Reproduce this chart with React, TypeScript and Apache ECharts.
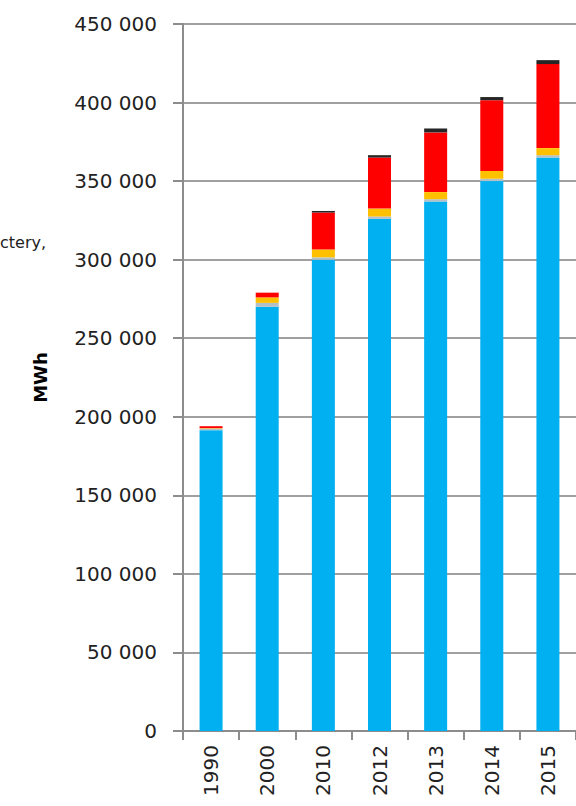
import React, { useEffect, useRef } from "react";
import * as echarts from "echarts";

const years = ["1990", "2000", "2010", "2012", "2013", "2014", "2015"];
const hydro = [191500, 270000, 300000, 326000, 337000, 350000, 365000];
const other = [1000, 2500, 1500, 1500, 1500, 1500, 1500];
const bio = [300, 3500, 5000, 5000, 4500, 5000, 4500];
const wind = [1200, 3000, 23500, 32500, 38000, 45000, 53500];
const solar = [0, 0, 1000, 1500, 2500, 2000, 2500];
const yTicks = { min: 0, max: 450000, interval: 50000 };

const seriesDefs = [
  { name: "Hydro", data: hydro, color: "#00B0F0" },
  { name: "Other", data: other, color: "#B4C0C8" },
  { name: "Bio", data: bio, color: "#FFC000" },
  { name: "Wind", data: wind, color: "#FF0000" },
  { name: "Solar", data: solar, color: "#262626" },
];

export default function App() {
  const ref = useRef<HTMLDivElement>(null);
  useEffect(() => {
    const chart = echarts.init(ref.current!, null, { renderer: "svg" });
    chart.setOption({
      animation: false,
      backgroundColor: "#ffffff",
      textStyle: { fontFamily: "DejaVu Sans" },
      grid: { left: 183, top: 24, width: 399, height: 707, containLabel: false },
      xAxis: {
        type: "category",
        data: years,
        axisLine: { lineStyle: { color: "#8c8c8c", width: 2 } },
        axisTick: { show: true, length: 9, interval: 0, lineStyle: { color: "#8c8c8c", width: 2 } },
        axisLabel: {
          rotate: 90,
          margin: 14,
          interval: 0,
          fontSize: 20,
          color: "#222",
          fontFamily: "DejaVu Sans",
        },
      },
      yAxis: {
        type: "value",
        min: yTicks.min,
        max: yTicks.max,
        interval: yTicks.interval,
        name: "MWh",
        nameLocation: "middle",
        nameGap: 134,
        nameTextStyle: { fontSize: 18, fontWeight: "bold", color: "#000", fontFamily: "DejaVu Sans" },
        axisLine: { show: true, lineStyle: { color: "#8c8c8c", width: 2 } },
        axisTick: { show: true, length: 10, lineStyle: { color: "#8c8c8c", width: 2 } },
        splitLine: { show: true, lineStyle: { color: "#a0a0a0", width: 2 } },
        axisLabel: {
          margin: 26,
          fontSize: 20,
          color: "#222",
          fontFamily: "DejaVu Sans",
          formatter: (v: number) => {
            const s = String(v);
            return s.length > 3 ? s.slice(0, s.length - 3) + " " + s.slice(-3) : s;
          },
        },
      },
      graphic: [
        {
          type: "text",
          left: 0,
          top: 234,
          style: { text: "ctery,", fontSize: 16, fill: "#222", fontFamily: "DejaVu Sans" },
        },
      ],
      series: seriesDefs.map((s) => ({
        name: s.name,
        type: "bar",
        stack: "total",
        barWidth: 23,
        data: s.data,
        itemStyle: { color: s.color },
      })),
    });
    return () => chart.dispose();
  }, []);
  return (
    <div
      ref={ref}
      style={{ position: "absolute", left: 0, top: 0, width: 576, height: 806 }}
    />
  );
}
